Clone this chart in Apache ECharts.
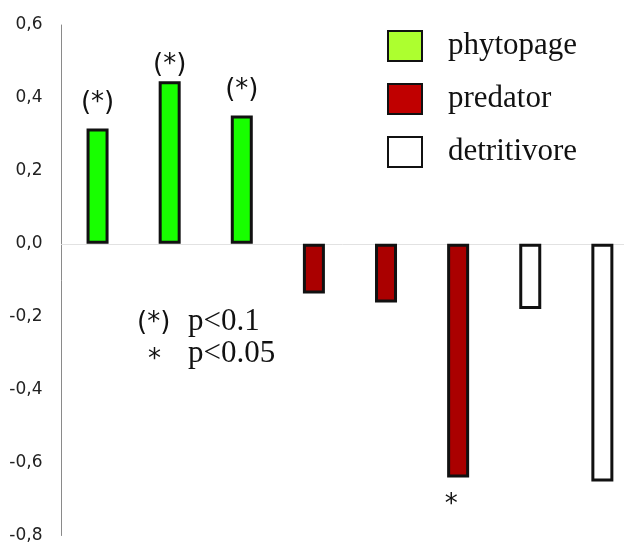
<!DOCTYPE html>
<html>
<head>
<meta charset="utf-8">
<script src="https://cdn.jsdelivr.net/npm/echarts@6/dist/echarts.min.js"></script>
<style>
  html, body { margin: 0; padding: 0; background: #fff; }
  #chart { width: 624px; height: 544px; }
</style>
</head>
<body>
<div id="chart"></div>
<script>
// one bar per column, grouped by feeding type
var categories = ['1', '2', '3', '4', '5', '6', '7', '8'];
var values = [0.316, 0.446, 0.352, -0.136, -0.161, -0.641, -0.179, -0.652];
var groups = ['phytopage', 'phytopage', 'phytopage', 'predator', 'predator', 'predator', 'detritivore', 'detritivore'];
var marks = ['(*)', '(*)', '(*)', '', '', '*', '', ''];

var groupNames = ['phytopage', 'predator', 'detritivore'];
var barColors = ['#18ff00', '#aa0000', '#ffffff'];
var legendColors = ['#adff2f', '#c00000', '#ffffff'];

var yMin = -0.8, yMax = 0.6, yStep = 0.2;

var noteMarks = ['(*)', '*'];
var noteTexts = ['p<0.1', 'p<0.05'];

var chart = echarts.init(document.getElementById('chart'));

// the last column runs past the right edge, so columns sit on a value axis
// at the middle of each slot (slot i -> i + 0.5)
function slot(i) { return i + 0.5; }

var series = [];
for (var g = 0; g < groupNames.length; g++) {
	var data = [];
	for (var i = 0; i < values.length; i++) {
		if (groups[i] == groupNames[g]) data.push([slot(i), values[i]]);
	}
	series.push({
		type: 'bar',
		name: groupNames[g],
		stack: 'all',
		barWidth: 22,
		data: data,
		itemStyle: {color: barColors[g], borderColor: '#111', borderWidth: 3},
		emphasis: {disabled: true}
	});
}

// significance marks: an invisible point on each bar end carries the label
var markData = [];
for (var i = 0; i < values.length; i++) {
	if (!marks[i]) continue;
	var up = values[i] >= 0;
	markData.push({
		value: [slot(i), values[i]],
		label: {
			show: true,
			formatter: marks[i],
			position: up ? 'top' : 'bottom',
			// the tallest bar's mark sits tight on it in the original
			distance: up ? (i == 1 ? 3 : 12) : 15,
			offset: up ? [0, 0] : [-7, 0]
		}
	});
}
series.push({
	type: 'scatter',
	symbolSize: 0,
	silent: true,
	data: markData,
	itemStyle: {opacity: 1},
	label: {fontFamily: 'DejaVu Sans', fontSize: 26, color: '#111'}
});

var legendData = [];
for (var g = 0; g < groupNames.length; g++) {
	legendData.push({
		name: groupNames[g],
		itemStyle: {color: legendColors[g], borderColor: '#111', borderWidth: 2}
	});
}

var graphics = [];
for (var k = 0; k < noteMarks.length; k++) {
	graphics.push({
		type: 'text',
		left: k == 0 ? 137 : 148,
		top: k == 0 ? 310 : 347,
		style: {text: noteMarks[k], fontFamily: 'DejaVu Sans', fontSize: 26, fill: '#111'}
	});
	graphics.push({
		type: 'text',
		left: 188,
		top: k == 0 ? 306 : 338,
		style: {text: noteTexts[k], fontFamily: 'Liberation Serif', fontSize: 31, fill: '#111'}
	});
}

var option = {
	animation: false,
	backgroundColor: '#fff',
	grid: {left: 61.5, top: 25, right: 0, height: 512},
	legend: {
		orient: 'vertical',
		left: 387,
		top: 30,
		padding: 0,
		itemWidth: 34,
		itemHeight: 30,
		itemGap: 21,
		icon: 'rect',
		selectedMode: false,
		data: legendData,
		textStyle: {fontFamily: 'Liberation Serif', fontSize: 31, color: '#111', padding: [0, 0, 0, 21]}
	},
	xAxis: {
		type: 'value',
		min: 0,
		max: 7.8,
		axisLine: {show: true, onZero: true, lineStyle: {color: '#e2e2e2', width: 1}},
		axisTick: {show: false},
		axisLabel: {show: false},
		splitLine: {show: false}
	},
	yAxis: {
		type: 'value',
		min: yMin,
		max: yMax,
		interval: yStep,
		axisLine: {show: true, lineStyle: {color: '#8a8a8a', width: 1}},
		axisTick: {show: false},
		splitLine: {show: false},
		axisLabel: {
			margin: 19,
			fontFamily: 'DejaVu Sans',
			fontSize: 17,
			color: '#222',
			formatter: function (v) { return v.toFixed(1).replace('.', ','); }
		}
	},
	series: series,
	graphic: graphics
};
chart.setOption(option);
</script>
</body>
</html>
